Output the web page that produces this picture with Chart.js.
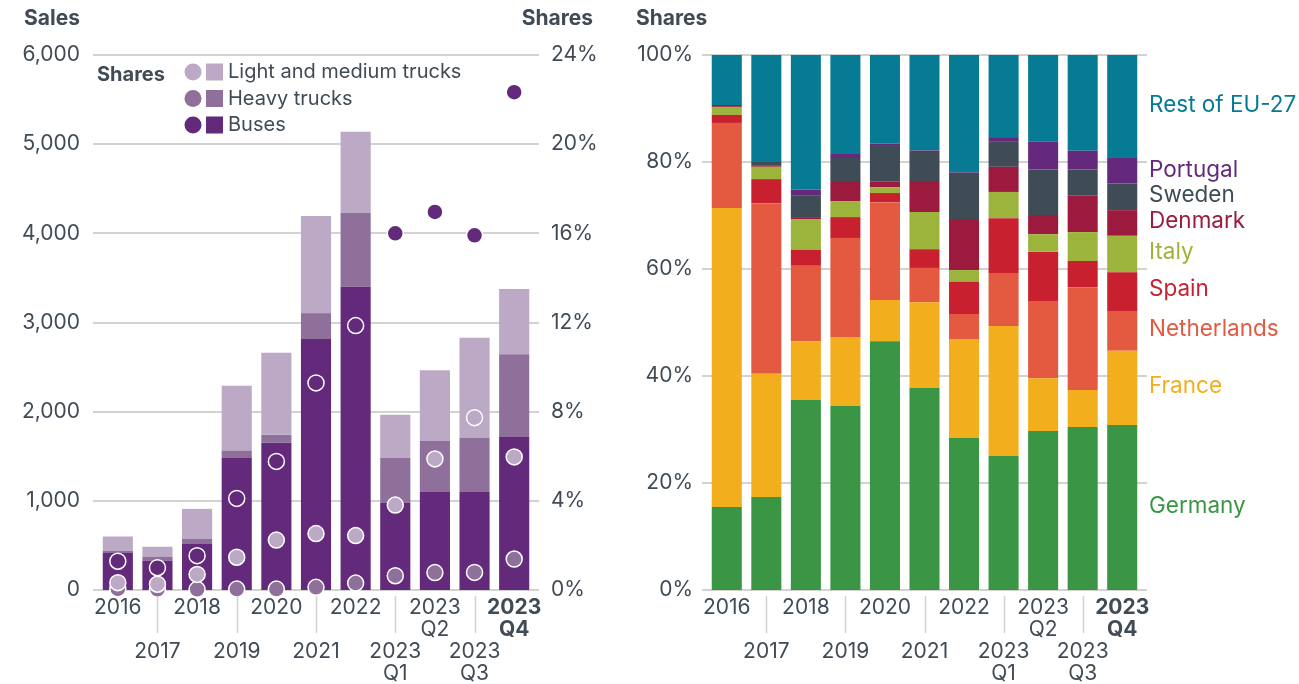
<!DOCTYPE html>
<html>
<head>
<meta charset="utf-8">
<script src="https://cdn.jsdelivr.net/npm/chart.js@4.4.0/dist/chart.umd.min.js"></script>
<style>
html,body{margin:0;padding:0;background:#fff}
#wrap{position:relative;width:1299px;height:684px;overflow:hidden}
#cL{position:absolute;left:0;top:0}
#cR{position:absolute;left:620px;top:0}
</style>
</head>
<body>
<div id="wrap">
  <canvas id="cL" width="620" height="684"></canvas>
  <canvas id="cR" width="679" height="684"></canvas>
</div>
<script>
/* ═══ DATA ═══ */
const cats=['2016','2017','2018','2019','2020','2021','2022','2023 Q1','2023 Q2','2023 Q3','2023 Q4'];

// left: sales (bars) and shares in % (dots)
const salesBuses=[420,330,515,1480,1650,2815,3400,975,1100,1100,1715];
const salesHeavy=[20,45,60,80,90,290,830,505,570,605,930];
const salesLight=[160,110,335,730,920,1090,910,485,795,1125,730];
const shareBuses=[1.29,1.0,1.54,4.11,5.77,9.29,11.86,16.0,16.96,15.91,22.33];
const shareHeavy=[0.05,0.03,0.03,0.04,0.04,0.12,0.31,0.64,0.78,0.79,1.39];
const shareLight=[0.33,0.26,0.70,1.47,2.24,2.53,2.44,3.81,5.88,7.73,5.97];
const salesTicks=[0,1000,2000,3000,4000,5000,6000];
const shareTicks=[0,4,8,12,16,20,24];

// right: country shares in %
const countries=['Germany','France','Netherlands','Spain','Italy','Denmark','Sweden','Portugal','Rest of EU-27'];
const germany=[15.5,17.4,35.5,34.4,46.5,37.75,28.4,25.05,29.7,30.45,30.85];
const france=[55.9,23.0,11.0,12.9,7.7,16.05,18.5,24.3,9.9,6.95,13.85];
const netherlands=[15.9,31.9,14.1,18.5,18.3,6.4,4.7,9.75,14.4,19.2,7.45];
const spain=[1.5,4.5,3.0,3.9,1.7,3.5,6.0,10.4,9.2,4.9,7.25];
const italy=[1.5,2.3,5.75,3.0,1.1,6.95,2.2,4.9,3.3,5.4,6.8];
const denmark=[0.35,0.3,0.35,3.75,1.0,5.8,9.55,4.7,3.6,6.9,4.8];
const sweden=[0,0.6,4.1,4.3,6.7,5.65,8.6,4.8,8.5,4.8,5.0];
const portugal=[0,0,1.0,0.75,0.4,0.1,0.1,0.6,5.2,3.5,4.9];
const restEU=[9.35,20.0,25.2,18.5,16.6,17.8,21.95,15.5,16.2,17.9,19.1];
const shareAxisTicks=[0,20,40,60,80,100];
const countryLabelAt=[15.7,38.1,48.8,56.3,63.2,69.0,73.8,78.5,90.7];

/* ═══ STYLE ═══ */
const TXT='#414b56', GRID='#d2d2d2';
const FONT="Inter, 'Open Sans', sans-serif";
const LIGHT='#bca9c6', HEAVY='#8f709b', BUS='#63297a';
const CCOL=['#3a9645','#f2ae1c','#e35a40','#c8202e','#9cb43c','#9b1a3d','#3f4b55','#64297c','#077b93'];

function xScale(){
  return {
    stacked:true, offset:true,
    grid:{display:false,drawTicks:false}, border:{display:false},
    afterFit:s=>{s.height=94},
    ticks:{
      color:TXT, padding:7, autoSkip:false, maxRotation:0,
      font:c=>({family:FONT,size:21,lineHeight:22/21,weight:c.index===cats.length-1?'bold':'normal'}),
      callback:(v,i)=>{const p=cats[i].split(' '); return i%2?['',''].concat(p):p;}
    }
  };
}

/* ═══ PLUGINS ═══ */
const gridPlugin={id:'grid',beforeDatasetsDraw(ch){
  const y=ch.scales.y, a=ch.chartArea, c=ch.ctx;
  c.save(); c.strokeStyle=GRID; c.lineWidth=2;
  y.ticks.forEach(t=>{
    const py=Math.round(y.getPixelForValue(t.value));
    c.beginPath(); c.moveTo(a.left-5,py); c.lineTo(a.right+5,py); c.stroke();
  });
  c.restore();
}};

const sepPlugin={id:'sep',afterDraw(ch){
  const x=ch.scales.x, b=ch.chartArea.bottom, c=ch.ctx;
  c.save(); c.strokeStyle=GRID; c.lineWidth=1.5;
  cats.forEach((_,i)=>{
    if(!(i%2)) return;
    const px=Math.round(x.getPixelForValue(i))+.5;
    c.beginPath(); c.moveTo(px,b+6); c.lineTo(px,b+43); c.stroke();
  });
  c.restore();
}};

const leftDeco={id:'leftDeco',afterDraw(ch){
  const c=ch.ctx;
  c.save(); c.fillStyle=TXT; c.textBaseline='middle';
  c.font='bold 21px '+FONT;
  c.textAlign='right'; c.fillText('Sales',80,19); c.fillText('Shares',593,19);
  c.font='bold 20px '+FONT;
  c.textAlign='left'; c.fillText('Shares',97,75);
  const items=[['Light and medium trucks',LIGHT],['Heavy trucks',HEAVY],['Buses',BUS]];
  c.font='20px '+FONT;
  items.forEach(([t,col],k)=>{
    const yy=72+k*26.5;
    c.fillStyle=col;
    c.beginPath(); c.arc(193,yy,8.5,0,Math.PI*2); c.fill();
    c.fillRect(206,yy-8.5,17,17);
    c.fillStyle=TXT; c.fillText(t,228,yy);
  });
  c.restore();
}};

const rightDeco={id:'rightDeco',afterDraw(ch){
  const c=ch.ctx, y=ch.scales.y, a=ch.chartArea;
  c.save(); c.textBaseline='middle';
  c.fillStyle=TXT; c.font='bold 21px '+FONT; c.textAlign='left';
  c.fillText('Shares',16,19);
  c.font='22.5px '+FONT;
  countries.forEach((n,i)=>{
    c.fillStyle=CCOL[i];
    c.fillText(n,a.right+7,y.getPixelForValue(countryLabelAt[i]));
  });
  c.restore();
}};

/* ═══ LEFT CHART ═══ */
function dots(data,col,ord){
  return {type:'line',data,yAxisID:'y2',showLine:false,order:ord,clip:false,
    pointRadius:8,pointHoverRadius:8,pointBackgroundColor:col,pointBorderColor:'#fff',pointBorderWidth:1.5};
}
function bars(data,col){
  return {type:'bar',data,yAxisID:'y',backgroundColor:col,borderWidth:0,order:5,barPercentage:0.76,categoryPercentage:1};
}

new Chart(document.getElementById('cL'),{
  type:'bar',
  data:{labels:cats,datasets:[
    bars(salesBuses,BUS), bars(salesHeavy,HEAVY), bars(salesLight,LIGHT),
    dots(shareHeavy,HEAVY,3), dots(shareLight,LIGHT,2), dots(shareBuses,BUS,1)
  ]},
  options:{
    responsive:false, animation:false, devicePixelRatio:1,
    layout:{padding:{top:55,bottom:0,left:0,right:0}},
    plugins:{legend:{display:false},tooltip:{enabled:false}},
    scales:{
      x:xScale(),
      y:{stacked:true,min:0,max:6000,afterFit:s=>{s.width=98},
        afterBuildTicks:s=>{s.ticks=salesTicks.map(v=>({value:v}))},
        grid:{display:false,drawTicks:false},border:{display:false},
        ticks:{color:TXT,padding:18,font:{family:FONT,size:21},callback:v=>v.toLocaleString('en-US')}},
      y2:{position:'right',min:0,max:24,afterFit:s=>{s.width=86},
        afterBuildTicks:s=>{s.ticks=shareTicks.map(v=>({value:v}))},
        grid:{display:false,drawTicks:false},border:{display:false},
        ticks:{color:TXT,padding:17,font:{family:FONT,size:21},callback:v=>v+'%'}}
    }
  },
  plugins:[gridPlugin,sepPlugin,leftDeco]
});

/* ═══ RIGHT CHART ═══ */
const countryData=[germany,france,netherlands,spain,italy,denmark,sweden,portugal,restEU];
new Chart(document.getElementById('cR'),{
  type:'bar',
  data:{labels:cats,datasets:countryData.map((d,i)=>({
    label:countries[i],data:d,backgroundColor:CCOL[i],borderWidth:0,barPercentage:0.76,categoryPercentage:1
  }))},
  options:{
    responsive:false, animation:false, devicePixelRatio:1,
    layout:{padding:{top:55,bottom:0,left:0,right:157}},
    plugins:{legend:{display:false},tooltip:{enabled:false}},
    scales:{
      x:xScale(),
      y:{stacked:true,min:0,max:100,afterFit:s=>{s.width=87},
        afterBuildTicks:s=>{s.ticks=shareAxisTicks.map(v=>({value:v}))},
        grid:{display:false,drawTicks:false},border:{display:false},
        ticks:{color:TXT,padding:14,font:{family:FONT,size:21},callback:v=>v+'%'}}
    }
  },
  plugins:[gridPlugin,sepPlugin,rightDeco]
});
</script>
</body>
</html>
